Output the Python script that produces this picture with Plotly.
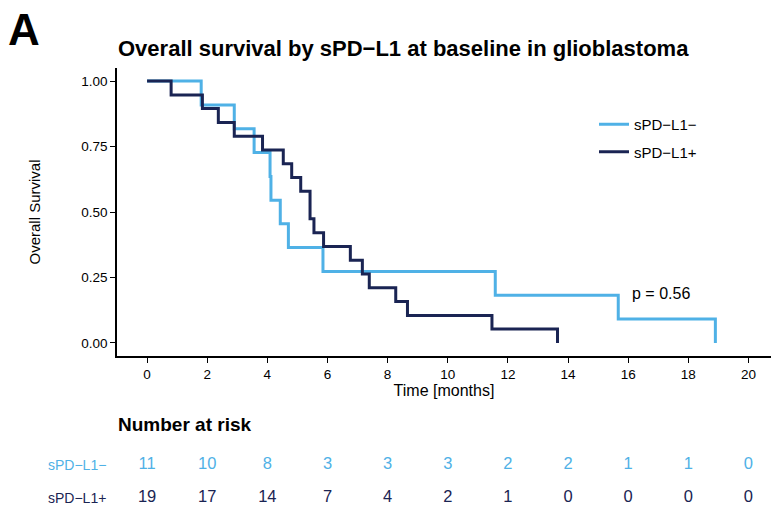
import plotly.graph_objects as go

# Kaplan-Meier step curves (time in months, survival probability)
times_neg = [0, 1.80, 2.90, 3.56, 4.09, 4.12, 4.43, 4.70, 5.85, 11.58, 15.67, 18.90]
surv_neg = [1.0, 0.909, 0.818, 0.727, 0.636, 0.545, 0.455, 0.364, 0.273, 0.182, 0.091, 0.0]

times_pos = [0, 0.80, 1.84, 2.37, 2.90, 3.84, 4.53, 4.81, 5.11, 5.42, 5.55, 5.87,
             6.76, 7.16, 7.39, 8.27, 8.66, 11.47, 13.65]
surv_pos = [1.0, 0.947, 0.895, 0.842, 0.789, 0.737, 0.684, 0.632, 0.579, 0.474, 0.421,
            0.368, 0.316, 0.263, 0.211, 0.158, 0.105, 0.053, 0.0]

# Number-at-risk table
risk_times = [0, 2, 4, 6, 8, 10, 12, 14, 16, 18, 20]
risk_neg = [11, 10, 8, 3, 3, 3, 2, 2, 1, 1, 0]
risk_pos = [19, 17, 14, 7, 4, 2, 1, 0, 0, 0, 0]

group_names = ["sPD\u2212L1\u2212", "sPD\u2212L1+"]
col_neg = "#4FB1E6"
col_pos = "#1A2453"

x_ticks = [0, 2, 4, 6, 8, 10, 12, 14, 16, 18, 20]
y_ticks = [0.0, 0.25, 0.5, 0.75, 1.0]
y_tick_text = ["0.00", "0.25", "0.50", "0.75", "1.00"]

W, H = 771, 515
FONT = "Liberation Sans"


def px_x(p):
    return p / W


def px_y(p):
    return 1 - p / H


fig = go.Figure()

fig.add_trace(go.Scatter(
    x=times_neg, y=surv_neg, mode="lines", line=dict(shape="hv", color=col_neg, width=3),
    name=group_names[0], legendgroup="a", xaxis="x", yaxis="y"))
fig.add_trace(go.Scatter(
    x=times_pos, y=surv_pos, mode="lines", line=dict(shape="hv", color=col_pos, width=3),
    name=group_names[1], legendgroup="b", xaxis="x", yaxis="y"))

# risk table rows as text marks on their own axes
fig.add_trace(go.Scatter(
    x=risk_times, y=[2] * len(risk_times), mode="text", text=[str(v) for v in risk_neg],
    textfont=dict(family=FONT, size=16.5, color=col_neg), showlegend=False,
    xaxis="x2", yaxis="y2", hoverinfo="skip"))
fig.add_trace(go.Scatter(
    x=risk_times, y=[1] * len(risk_times), mode="text", text=[str(v) for v in risk_pos],
    textfont=dict(family=FONT, size=16.5, color=col_pos), showlegend=False,
    xaxis="x2", yaxis="y2", hoverinfo="skip"))

x_range = [-1.0, 20.75]
x_dom = [px_x(117), px_x(771)]

fig.update_layout(
    width=W, height=H,
    margin=dict(l=0, r=0, t=0, b=0),
    paper_bgcolor="white", plot_bgcolor="white",
    font=dict(family=FONT, color="black"),
    xaxis=dict(
        domain=x_dom, range=x_range, anchor="y",
        tickvals=x_ticks, ticks="outside", ticklen=5, tickwidth=1.2, tickcolor="black",
        showline=True, linecolor="black", linewidth=1.5, showgrid=False, zeroline=False,
        tickfont=dict(family=FONT, size=13.5, color="black"),
        title=dict(text="Time [months]", font=dict(family=FONT, size=16), standoff=3),
    ),
    yaxis=dict(
        domain=[px_y(356), px_y(68)], range=[-0.05, 1.05], anchor="x",
        tickvals=y_ticks, ticktext=y_tick_text, ticks="outside", ticklen=5, tickwidth=1.2,
        tickcolor="black", showline=True, linecolor="black", linewidth=1.5,
        showgrid=False, zeroline=False,
        tickfont=dict(family=FONT, size=13.5, color="black"),
        title=dict(text="Overall Survival", font=dict(family=FONT, size=15), standoff=37),
    ),
    xaxis2=dict(domain=x_dom, range=x_range, anchor="y2", visible=False),
    yaxis2=dict(domain=[0, px_y(448)], range=[0.5, 2.5], anchor="x2", visible=False),
    legend=dict(
        x=px_x(594), y=px_y(108), xanchor="left", yanchor="top",
        font=dict(family=FONT, size=15, color="black"),
        bgcolor="rgba(0,0,0,0)", tracegroupgap=5, itemwidth=30,
    ),
    showlegend=True,
)

fig.add_annotation(
    text="p = 0.56", x=16.05, y=0.19, xref="x", yref="y", xanchor="left", yanchor="middle",
    showarrow=False, font=dict(family=FONT, size=16, color="black"))

fig.add_annotation(
    text="<b>A</b>", x=px_x(6), y=px_y(30), xref="paper", yref="paper",
    xanchor="left", yanchor="middle", showarrow=False,
    font=dict(family=FONT, size=44, color="black"))

fig.add_annotation(
    text="<b>Overall survival by sPD\u2212L1 at baseline in glioblastoma</b>",
    x=px_x(116), y=px_y(48), xref="paper", yref="paper",
    xanchor="left", yanchor="middle", showarrow=False,
    font=dict(family=FONT, size=22, color="black"))

fig.add_annotation(
    text="<b>Number at risk</b>", x=px_x(116), y=px_y(424), xref="paper", yref="paper",
    xanchor="left", yanchor="middle", showarrow=False,
    font=dict(family=FONT, size=19, color="black"))

fig.add_annotation(
    text=group_names[0], x=px_x(108), y=2, xref="paper", yref="y2",
    xanchor="right", yanchor="middle", showarrow=False,
    font=dict(family=FONT, size=14, color=col_neg))
fig.add_annotation(
    text=group_names[1], x=px_x(108), y=1, xref="paper", yref="y2",
    xanchor="right", yanchor="middle", showarrow=False,
    font=dict(family=FONT, size=14, color=col_pos))

fig.write_html("out.html")
